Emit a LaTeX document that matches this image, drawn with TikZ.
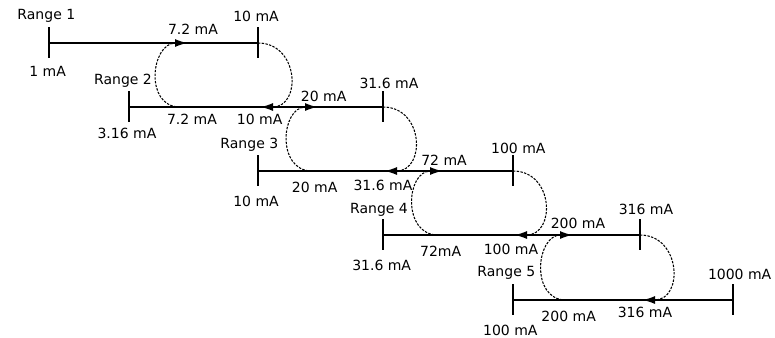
\documentclass[tikz,border=0pt]{standalone}
\usepackage{fontspec}
\setmainfont{DejaVu Sans}
\usetikzlibrary{arrows.meta}

\tikzset{
  rangeline/.style={line width=0.9pt},
  loopline/.style={line width=0.8pt, dash pattern=on 1.8pt off 1pt, -{Latex[length=9pt,width=6pt,sep=0pt]}},
  lbl/.style={font=\fontsize{10.5}{12}\selectfont, inner sep=0pt}
}

\begin{document}
\begin{tikzpicture}[x=0.75pt,y=-0.75pt,node distance=20pt]
\useasboundingbox (0,0) rectangle (775,337);

% range ends
\coordinate (r1s) at (49,43);   \coordinate (r1e) at (258,43);
\coordinate (r2s) at (129,107); \coordinate (r2e) at (383,107);
\coordinate (r3s) at (258,171); \coordinate (r3e) at (513,171);
\coordinate (r4s) at (383,235); \coordinate (r4e) at (640,235);
\coordinate (r5s) at (513,300); \coordinate (r5e) at (733,300);

% loop ends
\coordinate (a1) at (180,107); \coordinate (b1) at (187,43);  \coordinate (c1) at (261,107);
\coordinate (a2) at (312,171); \coordinate (b2) at (317,107); \coordinate (c2) at (385,171);
\coordinate (a3) at (438,235); \coordinate (b3) at (442,171); \coordinate (c3) at (515,235);
\coordinate (a4) at (566,300); \coordinate (b4) at (572,235); \coordinate (c4) at (643,300);

\foreach \r in {r1s,r1e,r2s,r2e,r3s,r3e,r4s,r4e,r5s,r5e}
  \draw[rangeline] (\r) ++(0,-16) -- ++(0,31);
\draw[rangeline] (r1s) -- (r1e);
\draw[rangeline] (r2s) -- (r2e);
\draw[rangeline] (r3s) -- (r3e);
\draw[rangeline] (r4s) -- (r4e);
\draw[rangeline] (r5s) -- (r5e);

% switching loops
\draw[loopline] (a1) .. controls +(-36,0) and +(-36,0) .. (b1);
\draw[loopline] (r1e) .. controls +(41,0) and +(41,0) .. (c1);
\draw[loopline] (a2) .. controls +(-36,0) and +(-36,0) .. (b2);
\draw[loopline] (r2e) .. controls +(41,0) and +(41,0) .. (c2);
\draw[loopline] (a3) .. controls +(-36,0) and +(-36,0) .. (b3);
\draw[loopline] (r3e) .. controls +(41,0) and +(41,0) .. (c3);
\draw[loopline] (a4) .. controls +(-36,0) and +(-36,0) .. (b4);
\draw[loopline] (r4e) .. controls +(41,0) and +(41,0) .. (c4);

\node[lbl] (rng1) [node distance=20pt, above of=r1s, xshift=-2pt] {Range 1};
\node[lbl] (rng2) [node distance=20pt, above of=r2s, xshift=-4.5pt] {Range 2};
\node[lbl] (rng3) [node distance=20pt, above of=r3s, xshift=-6.5pt] {Range 3};
\node[lbl] (rng4) [node distance=19pt, above of=r4s, xshift=-3pt] {Range 4};
\node[lbl] (rng5) [node distance=20pt, above of=r5s, xshift=-5pt] {Range 5};

\node[lbl] (lo1) [node distance=21pt, below of=r1s, xshift=-1pt] {1 mA};
\node[lbl] (lo2) [node distance=19.5pt, below of=r2s, xshift=-1.5pt] {3.16 mA};
\node[lbl] (lo3) [node distance=22.5pt, below of=r3s, xshift=-1.5pt] {10 mA};
\node[lbl] (lo4) [node distance=22.5pt, below of=r4s, xshift=-1pt] {31.6 mA};
\node[lbl] (lo5) [node distance=22.5pt, below of=r5s, xshift=-2pt] {100 mA};

\node[lbl] (hi1) [node distance=20pt, above of=r1e, xshift=-1.5pt] {10 mA};
\node[lbl] (hi2) [node distance=18pt, above of=r2e, xshift=4.5pt] {31.6 mA};
\node[lbl] (hi3) [node distance=17pt, above of=r3e, xshift=4pt] {100 mA};
\node[lbl] (hi4) [node distance=19.5pt, above of=r4e, xshift=4.5pt] {316 mA};
\node[lbl] (hi5) [node distance=19.5pt, above of=r5e, xshift=5pt] {1000 mA};

\node[lbl] (up1) [node distance=10.5pt, above of=b1, xshift=4.5pt] {7.2 mA};
\node[lbl] (up2) [node distance=8pt, above of=b2, xshift=5pt] {20 mA};
\node[lbl] (up3) [node distance=8pt, above of=b3, xshift=1.5pt] {72 mA};
\node[lbl] (up4) [node distance=9pt, above of=b4, xshift=4.5pt] {200 mA};

\node[lbl] (dn1) [node distance=9pt, below of=a1, xshift=9pt] {7.2 mA};
\node[lbl] (dn2) [node distance=12pt, below of=a2, xshift=2pt] {20 mA};
\node[lbl] (dn3) [node distance=12.5pt, below of=a3, xshift=2pt] {72mA};
\node[lbl] (dn4) [node distance=12.5pt, below of=a4, xshift=2pt] {200 mA};

\node[lbl] (bk1) [node distance=9pt, below of=c1, xshift=-1pt] {10 mA};
\node[lbl] (bk2) [node distance=11pt, below of=c2, xshift=-1.5pt] {31.6 mA};
\node[lbl] (bk3) [node distance=10.5pt, below of=c3, xshift=-3pt] {100 mA};
\node[lbl] (bk4) [node distance=9pt, below of=c4, xshift=1.5pt] {316 mA};
\end{tikzpicture}
\end{document}
